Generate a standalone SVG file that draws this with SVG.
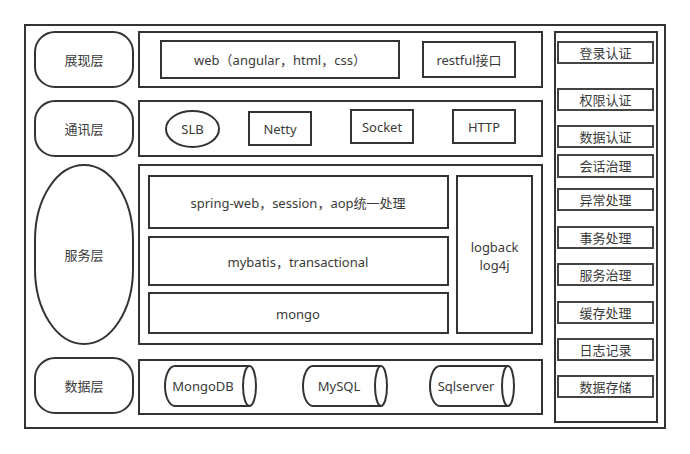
<svg xmlns="http://www.w3.org/2000/svg" width="690" height="454" viewBox="0 0 690 454">
<style>
.b{fill:#fff;stroke:#333;stroke-width:2}
.s{fill:#fff;stroke:#444;stroke-width:2}
.t{font-family:"Noto Sans","Noto Sans CJK SC",sans-serif;font-size:13px;fill:#3a3a3a;text-anchor:middle;dominant-baseline:central}
</style>
<rect width="690" height="454" fill="#fff"/>
<g id="frame"><rect class="b" x="25" y="25" width="640" height="403"/></g>
<g id="layer-present">
<rect class="b" x="35" y="32" width="98" height="55" rx="20" ry="20"/>
<text class="t" x="84" y="60">展现层</text>
<rect class="b" x="139" y="32" width="403" height="55"/>
</g>
<g id="web"><rect class="b" x="161" y="41" width="238" height="37"/><text class="t" x="280" y="60">web（angular，html，css）</text></g>
<g id="restful"><rect class="b" x="423" y="42" width="92" height="35"/><text class="t" x="469" y="60">restful接口</text></g>
<g id="layer-comm">
<rect class="b" x="35" y="101" width="98" height="55" rx="20" ry="20"/>
<text class="t" x="84" y="129">通讯层</text>
<rect class="b" x="139" y="101" width="403" height="55"/>
</g>
<g id="slb"><ellipse class="b" cx="192.5" cy="129" rx="26.5" ry="18"/><text class="t" x="192.5" y="129">SLB</text></g>
<g id="netty"><rect class="b" x="249" y="112" width="62" height="33"/><text class="t" x="280" y="129">Netty</text></g>
<g id="socket"><rect class="b" x="351" y="110" width="62" height="33"/><text class="t" x="382" y="127">Socket</text></g>
<g id="http"><rect class="b" x="453" y="110" width="62" height="33"/><text class="t" x="484" y="127">HTTP</text></g>
<g id="layer-service">
<rect class="b" x="35" y="165" width="98" height="179" rx="49" ry="75"/>
<text class="t" x="84" y="255">服务层</text>
<rect class="b" x="139" y="165" width="403" height="179"/>
</g>
<g id="spring"><rect class="b" x="149" y="176" width="299" height="52"/><text class="t" x="298" y="203">spring-web，session，aop统一处理</text></g>
<g id="mybatis"><rect class="b" x="149" y="237" width="299" height="48"/><text class="t" x="298" y="262">mybatis，transactional</text></g>
<g id="mongo"><rect class="b" x="149" y="293" width="299" height="40"/><text class="t" x="298" y="314">mongo</text></g>
<g id="logback"><rect class="b" x="457" y="176" width="75" height="157"/><text class="t" x="494.5" y="247">logback</text><text class="t" x="494.5" y="265">log4j</text></g>
<g id="layer-data">
<rect class="b" x="35" y="358" width="98" height="55" rx="20" ry="20"/>
<text class="t" x="84" y="386">数据层</text>
<rect class="b" x="139" y="360" width="403" height="54"/>
</g>
<g id="mongodb"><path class="b" d="M249.5 366 L175 366 A10 20 0 0 0 175 406 L249.5 406"/><ellipse class="b" cx="249.5" cy="386" rx="6.5" ry="20"/><text class="t" x="203" y="386">MongoDB</text></g>
<g id="mysql"><path class="b" d="M381 366 L313 366 A10 20 0 0 0 313 406 L381 406"/><ellipse class="b" cx="381" cy="386" rx="6" ry="20"/><text class="t" x="339" y="386">MySQL</text></g>
<g id="sqlserver"><path class="b" d="M508 366 L440 366 A10 20 0 0 0 440 406 L508 406"/><ellipse class="b" cx="508" cy="386" rx="6" ry="20"/><text class="t" x="466" y="386">Sqlserver</text></g>
<g id="cross-panel"><rect class="b" x="555" y="32" width="102" height="390"/></g>
<g id="item-login"><rect class="s" x="558" y="42" width="95" height="21"/><text class="t" x="605.5" y="52.5">登录认证</text></g>
<g id="item-perm"><rect class="s" x="558" y="89" width="95" height="21"/><text class="t" x="605.5" y="99.5">权限认证</text></g>
<g id="item-data-auth"><rect class="s" x="558" y="126" width="95" height="21"/><text class="t" x="605.5" y="136.5">数据认证</text></g>
<g id="item-session"><rect class="s" x="558" y="155" width="95" height="22"/><text class="t" x="605.5" y="166">会话治理</text></g>
<g id="item-exception"><rect class="s" x="558" y="189" width="95" height="21"/><text class="t" x="605.5" y="199.5">异常处理</text></g>
<g id="item-tx"><rect class="s" x="558" y="227" width="95" height="21"/><text class="t" x="605.5" y="237.5">事务处理</text></g>
<g id="item-svc"><rect class="s" x="558" y="264" width="95" height="21"/><text class="t" x="605.5" y="274.5">服务治理</text></g>
<g id="item-cache"><rect class="s" x="558" y="302" width="95" height="21"/><text class="t" x="605.5" y="312.5">缓存处理</text></g>
<g id="item-log"><rect class="s" x="558" y="339" width="95" height="21"/><text class="t" x="605.5" y="349.5">日志记录</text></g>
<g id="item-storage"><rect class="s" x="558" y="376" width="95" height="21"/><text class="t" x="605.5" y="386.5">数据存储</text></g>
<g id="connectors"></g>
</svg>
